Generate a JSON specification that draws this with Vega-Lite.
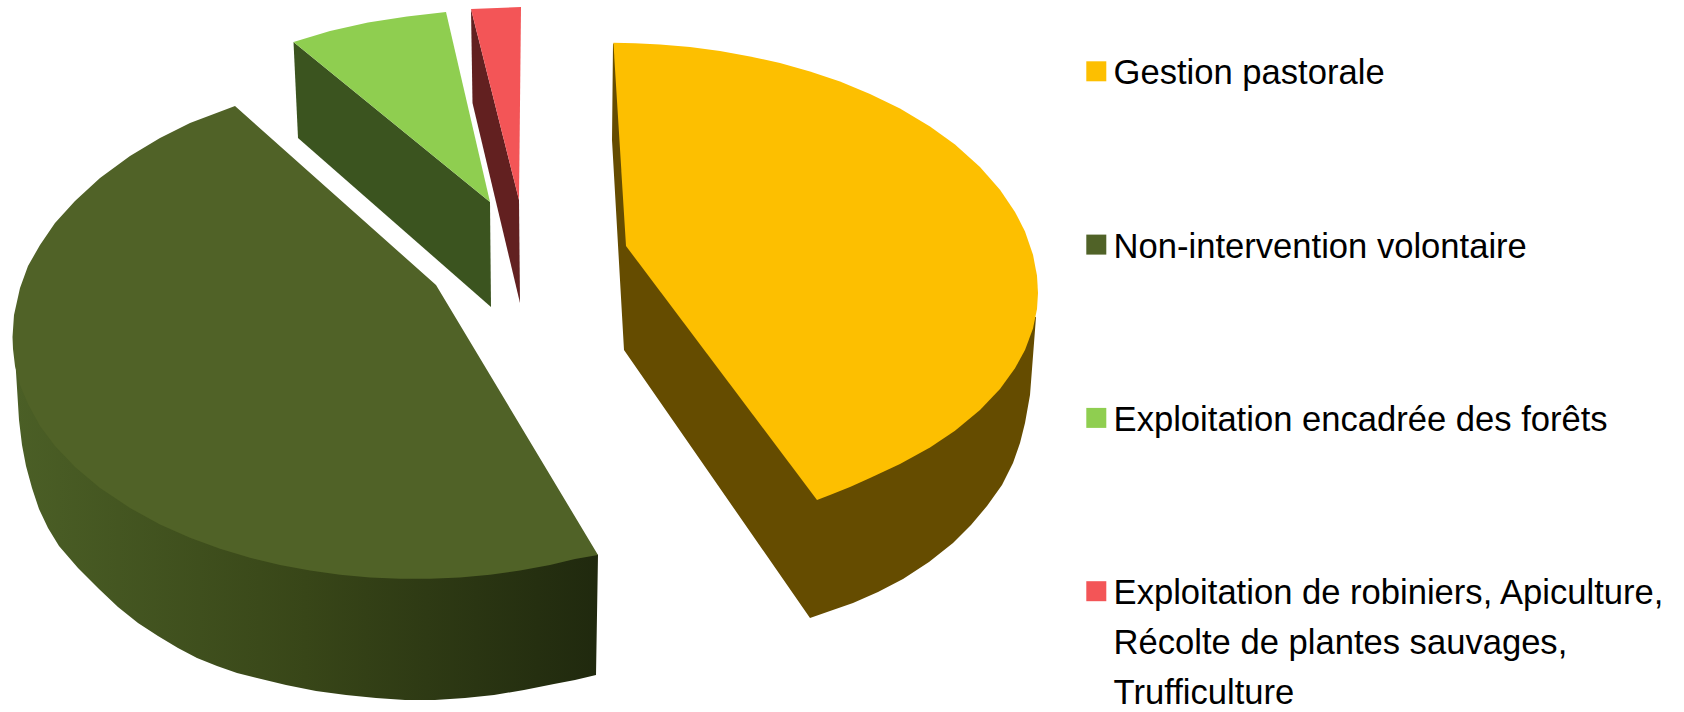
{
"$schema":"https://vega.github.io/schema/vega-lite/v6.json",
"width":1684,"height":712,"padding":0,
"autosize":{"type":"fit","contains":"padding"},
"background":"white",
"view":{"stroke":null},
"config":{"style":{"guide-label":{"lineHeight":50,"dy":3}}},
"data":{"values":[
{"s":"N","f":"side","i":1,"x":13,"y":337},{"s":"N","f":"side","i":2,"x":15,"y":356},{"s":"N","f":"side","i":3,"x":19,"y":420},{"s":"N","f":"side","i":4,"x":22,"y":445},{"s":"N","f":"side","i":5,"x":26,"y":466},{"s":"N","f":"side","i":6,"x":32,"y":488},{"s":"N","f":"side","i":7,"x":39,"y":509},{"s":"N","f":"side","i":8,"x":48,"y":528},{"s":"N","f":"side","i":9,"x":59,"y":546},{"s":"N","f":"side","i":10,"x":78,"y":568},{"s":"N","f":"side","i":11,"x":99,"y":589},{"s":"N","f":"side","i":12,"x":118,"y":607},{"s":"N","f":"side","i":13,"x":138,"y":623},{"s":"N","f":"side","i":14,"x":158,"y":636},{"s":"N","f":"side","i":15,"x":178,"y":648},{"s":"N","f":"side","i":16,"x":197,"y":658},{"s":"N","f":"side","i":17,"x":217,"y":666},{"s":"N","f":"side","i":18,"x":237,"y":673},{"s":"N","f":"side","i":19,"x":257,"y":678},{"s":"N","f":"side","i":20,"x":286,"y":685},{"s":"N","f":"side","i":21,"x":316,"y":691},{"s":"N","f":"side","i":22,"x":346,"y":695},{"s":"N","f":"side","i":23,"x":376,"y":698},{"s":"N","f":"side","i":24,"x":405,"y":700},{"s":"N","f":"side","i":25,"x":435,"y":700},{"s":"N","f":"side","i":26,"x":465,"y":698},{"s":"N","f":"side","i":27,"x":494,"y":695},{"s":"N","f":"side","i":28,"x":524,"y":690},{"s":"N","f":"side","i":29,"x":554,"y":684},{"s":"N","f":"side","i":30,"x":575,"y":680},{"s":"N","f":"side","i":31,"x":596,"y":675},{"s":"N","f":"side","i":32,"x":598,"y":555},{"s":"N","f":"side","i":33,"x":400,"y":400},
{"s":"G","f":"side","i":1,"x":613,"y":43},{"s":"G","f":"side","i":2,"x":612,"y":140},{"s":"G","f":"side","i":3,"x":624,"y":350},{"s":"G","f":"side","i":4,"x":810,"y":618},{"s":"G","f":"side","i":5,"x":830,"y":611},{"s":"G","f":"side","i":6,"x":853,"y":603},{"s":"G","f":"side","i":7,"x":878,"y":592},{"s":"G","f":"side","i":8,"x":903,"y":579},{"s":"G","f":"side","i":9,"x":929,"y":562},{"s":"G","f":"side","i":10,"x":953,"y":543},{"s":"G","f":"side","i":11,"x":971,"y":525},{"s":"G","f":"side","i":12,"x":987,"y":506},{"s":"G","f":"side","i":13,"x":1002,"y":485},{"s":"G","f":"side","i":14,"x":1013,"y":463},{"s":"G","f":"side","i":15,"x":1020,"y":443},{"s":"G","f":"side","i":16,"x":1025,"y":423},{"s":"G","f":"side","i":17,"x":1030,"y":395},{"s":"G","f":"side","i":18,"x":1033,"y":356},{"s":"G","f":"side","i":19,"x":1036,"y":317},{"s":"G","f":"side","i":20,"x":800,"y":300},
{"s":"E","f":"side","i":1,"x":293.5,"y":42},{"s":"E","f":"side","i":2,"x":490,"y":202},{"s":"E","f":"side","i":3,"x":491,"y":307},{"s":"E","f":"side","i":4,"x":298,"y":138},
{"s":"R","f":"side","i":1,"x":471,"y":9},{"s":"R","f":"side","i":2,"x":519,"y":200},{"s":"R","f":"side","i":3,"x":520,"y":303},{"s":"R","f":"side","i":4,"x":472.5,"y":103},
{"s":"N","f":"top","i":1,"x":235,"y":106},{"s":"N","f":"top","i":2,"x":436,"y":285},{"s":"N","f":"top","i":3,"x":598,"y":555},{"s":"N","f":"top","i":4,"x":575,"y":559},{"s":"N","f":"top","i":5,"x":550,"y":565},{"s":"N","f":"top","i":6,"x":520,"y":570.6},{"s":"N","f":"top","i":7,"x":490,"y":574.8},{"s":"N","f":"top","i":8,"x":460,"y":577.5},{"s":"N","f":"top","i":9,"x":430,"y":578.8},{"s":"N","f":"top","i":10,"x":400,"y":578.8},{"s":"N","f":"top","i":11,"x":370,"y":577.5},{"s":"N","f":"top","i":12,"x":340,"y":574.8},{"s":"N","f":"top","i":13,"x":310,"y":570.6},{"s":"N","f":"top","i":14,"x":280,"y":565},{"s":"N","f":"top","i":15,"x":250,"y":557.8},{"s":"N","f":"top","i":16,"x":220,"y":548.8},{"s":"N","f":"top","i":17,"x":190,"y":537.8},{"s":"N","f":"top","i":18,"x":160,"y":524.4},{"s":"N","f":"top","i":19,"x":130,"y":508},{"s":"N","f":"top","i":20,"x":100,"y":488},{"s":"N","f":"top","i":21,"x":75,"y":467},{"s":"N","f":"top","i":22,"x":55,"y":446},{"s":"N","f":"top","i":23,"x":40,"y":426},{"s":"N","f":"top","i":24,"x":28,"y":404},{"s":"N","f":"top","i":25,"x":20,"y":385},{"s":"N","f":"top","i":26,"x":15,"y":366},{"s":"N","f":"top","i":27,"x":13,"y":349},{"s":"N","f":"top","i":28,"x":12.5,"y":337},{"s":"N","f":"top","i":29,"x":14,"y":315},{"s":"N","f":"top","i":30,"x":20,"y":288},{"s":"N","f":"top","i":31,"x":28,"y":266},{"s":"N","f":"top","i":32,"x":40,"y":245},{"s":"N","f":"top","i":33,"x":55,"y":223},{"s":"N","f":"top","i":34,"x":75,"y":201},{"s":"N","f":"top","i":35,"x":100,"y":178},{"s":"N","f":"top","i":36,"x":130,"y":156},{"s":"N","f":"top","i":37,"x":160,"y":138},{"s":"N","f":"top","i":38,"x":190,"y":123},
{"s":"G","f":"top","i":1,"x":613.4,"y":42.7},{"s":"G","f":"top","i":2,"x":635,"y":43.3},{"s":"G","f":"top","i":3,"x":660,"y":44.5},{"s":"G","f":"top","i":4,"x":690,"y":47.1},{"s":"G","f":"top","i":5,"x":720,"y":51.1},{"s":"G","f":"top","i":6,"x":750,"y":56.4},{"s":"G","f":"top","i":7,"x":780,"y":63.1},{"s":"G","f":"top","i":8,"x":810,"y":71.5},{"s":"G","f":"top","i":9,"x":840,"y":81.6},{"s":"G","f":"top","i":10,"x":870,"y":93.9},{"s":"G","f":"top","i":11,"x":900,"y":108.6},{"s":"G","f":"top","i":12,"x":930,"y":126.5},{"s":"G","f":"top","i":13,"x":955,"y":144.6},{"s":"G","f":"top","i":14,"x":980,"y":166.9},{"s":"G","f":"top","i":15,"x":1000,"y":189.7},{"s":"G","f":"top","i":16,"x":1015,"y":211.9},{"s":"G","f":"top","i":17,"x":1025,"y":231.6},{"s":"G","f":"top","i":18,"x":1033,"y":254.7},{"s":"G","f":"top","i":19,"x":1037,"y":275.7},{"s":"G","f":"top","i":20,"x":1038,"y":293},{"s":"G","f":"top","i":21,"x":1037,"y":309},{"s":"G","f":"top","i":22,"x":1033,"y":328.5},{"s":"G","f":"top","i":23,"x":1025,"y":350},{"s":"G","f":"top","i":24,"x":1015,"y":368.3},{"s":"G","f":"top","i":25,"x":1000,"y":388.9},{"s":"G","f":"top","i":26,"x":980,"y":410},{"s":"G","f":"top","i":27,"x":955,"y":430.7},{"s":"G","f":"top","i":28,"x":930,"y":447.5},{"s":"G","f":"top","i":29,"x":900,"y":464},{"s":"G","f":"top","i":30,"x":870,"y":478},{"s":"G","f":"top","i":31,"x":850,"y":487},{"s":"G","f":"top","i":32,"x":830,"y":495},{"s":"G","f":"top","i":33,"x":817,"y":500},{"s":"G","f":"top","i":34,"x":626,"y":246},
{"s":"E","f":"top","i":1,"x":293.5,"y":42},{"s":"E","f":"top","i":2,"x":330,"y":31},{"s":"E","f":"top","i":3,"x":368,"y":22.5},{"s":"E","f":"top","i":4,"x":407,"y":16.5},{"s":"E","f":"top","i":5,"x":446,"y":12},{"s":"E","f":"top","i":6,"x":490,"y":202},
{"s":"R","f":"top","i":1,"x":471,"y":9},{"s":"R","f":"top","i":2,"x":521,"y":7},{"s":"R","f":"top","i":3,"x":519,"y":200}
]},
"transform":[{"lookup":"s","from":{"data":{"values":[
{"s":"G","slice":"Gestion pastorale"},{"s":"N","slice":"Non-intervention volontaire"},{"s":"E","slice":"Exploitation encadrée des forêts"},{"s":"R","slice":"Exploitation de robiniers, Apiculture, Récolte de plantes sauvages, Trufficulture"}]},"key":"s","fields":["slice"]}}],
"encoding":{
"x":{"field":"x","type":"quantitative","scale":{"domain":[0,1684]},"axis":null},
"y":{"field":"y","type":"quantitative","scale":{"domain":[712,0]},"axis":null},
"order":{"field":"i","type":"quantitative"}
},
"layer":[
{"transform":[{"filter":"datum.f=='side' && datum.s!='N'"}],
 "mark":{"type":"line","filled":true,"strokeWidth":0},
 "encoding":{"color":{"field":"s","type":"nominal","legend":null,"scale":{"domain":["G","E","R"],"range":["#654c00","#3b541f","#622020"]}}}},
{"transform":[{"filter":"datum.f=='side' && datum.s=='N'"}],
 "mark":{"type":"line","filled":true,"strokeWidth":0,"fill":{"gradient":"linear","x1":0,"x2":1,"y1":0,"y2":0,"stops":[{"offset":0,"color":"#4b5f26"},{"offset":0.5,"color":"#384618"},{"offset":1,"color":"#20290e"}]}}},
{"transform":[{"filter":"datum.f=='top'"}],
 "mark":{"type":"line","filled":true,"strokeWidth":0},
 "encoding":{"color":{"field":"slice","type":"nominal","scale":{"domain":["Gestion pastorale","Non-intervention volontaire","Exploitation encadrée des forêts","Exploitation de robiniers, Apiculture, Récolte de plantes sauvages, Trufficulture"],"range":["#fdbf00","#506227","#8fce50","#f35557"]},
 "legend":{"title":null,"orient":"none","legendX":1079,"legendY":54,"symbolType":"square","symbolSize":400,"symbolStrokeWidth":0,"symbolOpacity":1,"labelFont":"Liberation Sans","labelFontSize":34.6,"labelColor":"#000000","labelLimit":700,"labelOffset":0,"rowPadding":136.3,"labelExpr":"indexof(datum.label,'Récolte')>=0 ? ['Exploitation de robiniers, Apiculture,','Récolte de plantes sauvages,','Trufficulture'] : datum.label"}}}}
],
"resolve":{"scale":{"color":"independent"}}
}
